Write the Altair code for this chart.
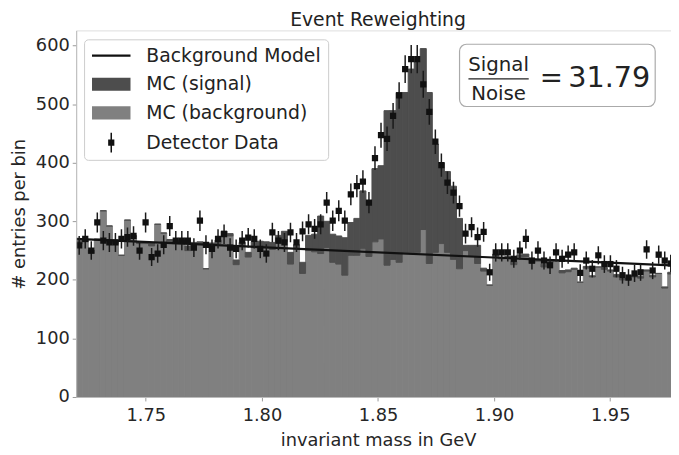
import altair as alt
import pandas as pd
import numpy as np

# ---------------- data ----------------
LO, HI, NBINS = 1.72, 1.98, 100
x_view = [1.72, 1.9762]
y_view = [0, 626]
x_ticks = [1.75, 1.80, 1.85, 1.90, 1.95]
y_ticks = [0, 100, 200, 300, 400, 500, 600]

mc_background = [262, 265, 245, 268, 318, 292, 262, 242, 302, 275,
                 262, 262, 258, 295, 280, 265, 262, 262, 250, 260,
                 262, 219, 258, 262, 283, 275, 226, 258, 239, 255,
                 258, 255, 252, 262, 265, 227, 255, 211, 250, 248,
                 245, 255, 230, 227, 208, 242, 242, 253, 240, 265,
                 270, 225, 235, 230, 247, 247, 247, 286, 228, 247,
                 262, 247, 235, 219, 250, 240, 228, 215, 191, 240,
                 236, 238, 226, 240, 240, 228, 232, 222, 230, 232,
                 212, 214, 218, 196, 220, 205, 222, 218, 215, 205,
                 200, 200, 205, 203, 215, 205, 211, 186, 210, 215]

mc_signal = [5, 3, 6, 2, 0, 0, 4, 0, 0, 0,
             3, 2, 5, 0, 0, 4, 3, 6, 8, 4,
             3, 0, 5, 6, 0, 4, 8, 6, 8, 10,
             8, 10, 12, 14, 18, 20, 5, 19, 26, 30,
             64, 45, 48, 48, 64, 56, 63, 99, 95, 125,
             125, 264, 254, 290, 273, 313, 325, 309, 292, 185,
             138, 138, 125, 86, 9, 19, 31, 5, 0, 4,
             3, 2, 5, 3, 4, 6, 2, 5, 3, 2,
             4, 3, 2, 0, 3, 2, 0, 3, 2, 4,
             2, 3, 2, 3, 2, 3, 0, 2, 3, 2]

detector_data = [259, 270, 250, 298, 267, 264, 264, 270, 273, 275,
                 250, 298, 239, 245, 260, 292, 267, 267, 267, 255,
                 301, 260, 253, 270, 278, 255, 253, 267, 272, 270,
                 253, 245, 281, 267, 264, 281, 264, 283, 295, 287,
                 295, 332, 301, 318, 301, 346, 360, 368, 332, 408,
                 447, 441, 480, 515, 560, 577, 577, 534, 487, 436,
                 396, 366, 349, 326, 279, 290, 273, 282, 213, 247,
                 247, 247, 236, 250, 270, 233, 250, 233, 225, 247,
                 236, 243, 247, 212, 233, 219, 242, 227, 227, 219,
                 208, 204, 211, 213, 252, 216, 243, 233, 228, 230]

model_x = [1.72, 1.98]
model_y = [270, 224]

series_names = ["Background Model", "MC (signal)", "MC (background)", "Detector Data"]
series_colors = ["#111111", "#4d4d4d", "#808080", "#111111"]
series_shapes = [
    "M-2.05,-0.12H2.05V0.12H-2.05Z",
    "M-2.05,-0.7H2.05V0.7H-2.05Z",
    "M-2.05,-0.7H2.05V0.7H-2.05Z",
    "M-0.33,-0.33H0.33V0.33H-0.33Z M-0.08,-1.05H0.08V1.05H-0.08Z",
]

title_text = "Event Reweighting"
ratio_num = ["Signal"]
ratio_den = ["Noise"]
ratio_eq = ["="]
ratio_val = ["31.79"]

FONT = "DejaVu Sans"
TXT = "#222222"
DARK = "#4d4d4d"
LIGHT = "#808080"

# ---------------- tables ----------------
edges = np.linspace(LO, HI, NBINS + 1)
df = pd.DataFrame({
    "lo": edges[:-1],
    "hi": edges[1:],
    "mid": (edges[:-1] + edges[1:]) / 2,
    "bg": mc_background,
    "sig": mc_signal,
    "data": detector_data,
})
df["top"] = df["bg"] + df["sig"]
model_df = pd.DataFrame({"x": model_x, "y": model_y})
leg_df = pd.DataFrame({"series": series_names})

xscale = alt.Scale(domain=x_view, nice=False, zero=False)
yscale = alt.Scale(domain=y_view, nice=False, zero=False)

x_axis = alt.Axis(values=x_ticks, format=".2f", title="invariant mass in GeV",
                  labelFont=FONT, labelFontSize=18, labelColor="#262626",
                  labelPadding=6, tickSize=4, tickColor="#999999",
                  domainColor="#bbbbbb", grid=False,
                  titleFont=FONT, titleFontSize=18, titleFontWeight="normal",
                  titleColor="#262626", titleX=305.5, titleY=49,
                  titleBaseline="alphabetic", titleAlign="center", zindex=1)
y_axis = alt.Axis(values=y_ticks, title="# entries per bin",
                  labelFont=FONT, labelFontSize=18, labelColor="#262626",
                  labelPadding=3, tickSize=4, tickColor="#999999",
                  domainColor="#bbbbbb", grid=False,
                  titleFont=FONT, titleFontSize=18, titleFontWeight="normal",
                  titleColor="#262626", titleX=-57, titleY=185.5, titleAngle=-90,
                  titleBaseline="middle", titleAlign="center", zindex=1)

base = alt.Chart(df)

bg_rect = base.mark_rect(clip=True, color=LIGHT, stroke=LIGHT, strokeWidth=1).encode(
    x=alt.X("lo:Q", scale=xscale, axis=x_axis),
    x2="hi:Q",
    y=alt.Y("bg:Q", scale=yscale, axis=y_axis),
    y2=alt.datum(0),
)

sig_rect = base.mark_rect(clip=True, color=DARK, stroke=DARK, strokeWidth=1).encode(
    x=alt.X("lo:Q", scale=xscale),
    x2="hi:Q",
    y=alt.Y("top:Q", scale=yscale),
    y2="bg:Q",
)

model_line = alt.Chart(model_df).mark_line(clip=True, color="#111111", strokeWidth=2.2).encode(
    x=alt.X("x:Q", scale=xscale),
    y=alt.Y("y:Q", scale=yscale),
)

err = base.transform_calculate(
    elo="datum.data - sqrt(datum.data)",
    ehi="datum.data + sqrt(datum.data)",
).mark_rule(clip=True, color="#1a1a1a", strokeWidth=1.5).encode(
    x=alt.X("mid:Q", scale=xscale),
    y=alt.Y("elo:Q", scale=yscale),
    y2="ehi:Q",
)

pts = base.mark_square(clip=True, size=40, color="#111111", opacity=1).encode(
    x=alt.X("mid:Q", scale=xscale),
    y=alt.Y("data:Q", scale=yscale),
)

leg = alt.Legend(title=None, orient="none", legendX=8, legendY=9, padding=7,
                 symbolOffset=11, symbolSize=361, symbolStrokeWidth=0,
                 labelOffset=26, rowPadding=9, labelFontSize=19, labelFont=FONT,
                 labelColor=TXT, labelLimit=400,
                 fillColor="rgba(255,255,255,0.85)", strokeColor="#cccccc",
                 cornerRadius=4)

legend_layer = alt.Chart(leg_df).mark_point(filled=True, opacity=1, clip=True).encode(
    x=alt.value(-1000),
    y=alt.value(-1000),
    color=alt.Color("series:N", scale=alt.Scale(domain=series_names, range=series_colors), legend=leg),
    shape=alt.Shape("series:N", scale=alt.Scale(domain=series_names, range=series_shapes), legend=leg),
)

# annotation box
box = alt.Chart(pd.DataFrame({"v": [0]})).mark_rect(
    fill="white", stroke="#aaaaaa", strokeWidth=1.2, cornerRadius=7
).encode(x=alt.value(388), x2=alt.value(586), y=alt.value(14), y2=alt.value(77))

frac = alt.Chart(pd.DataFrame({"v": [0]})).mark_rule(color=TXT, strokeWidth=1.4).encode(
    x=alt.value(397), x2=alt.value(458), y=alt.value(49)
)

num = alt.Chart(pd.DataFrame({"t": ratio_num})).mark_text(
    font=FONT, fontSize=20, color=TXT, align="center", baseline="alphabetic"
).encode(text="t:N", x=alt.value(427.5), y=alt.value(41))

den = alt.Chart(pd.DataFrame({"t": ratio_den})).mark_text(
    font=FONT, fontSize=20, color=TXT, align="center", baseline="alphabetic"
).encode(text="t:N", x=alt.value(427.5), y=alt.value(70))

eq = alt.Chart(pd.DataFrame({"t": ratio_eq})).mark_text(
    font=FONT, fontSize=28, color=TXT, align="center", baseline="alphabetic"
).encode(text="t:N", x=alt.value(481), y=alt.value(57))

val = alt.Chart(pd.DataFrame({"t": ratio_val})).mark_text(
    font=FONT, fontSize=29, color=TXT, align="left", baseline="alphabetic"
).encode(text="t:N", x=alt.value(498), y=alt.value(57))

chart = alt.layer(
    bg_rect, sig_rect, model_line, err, pts, legend_layer,
    box, frac, num, den, eq, val,
).properties(
    width=602, height=371,
    title=alt.TitleParams(title_text, font=FONT, fontSize=19, fontWeight="normal",
                          color=TXT, anchor="middle", dx=4.5, offset=0),
    autosize=alt.AutoSizeParams(type="none"),
    padding={"left": 69, "top": 20, "right": 0, "bottom": 56},
).configure_view(
    stroke="#bbbbbb", strokeWidth=1
).configure(
    background="white"
)

chart.save("out.html", embed_options={"renderer": "svg", "actions": False})
